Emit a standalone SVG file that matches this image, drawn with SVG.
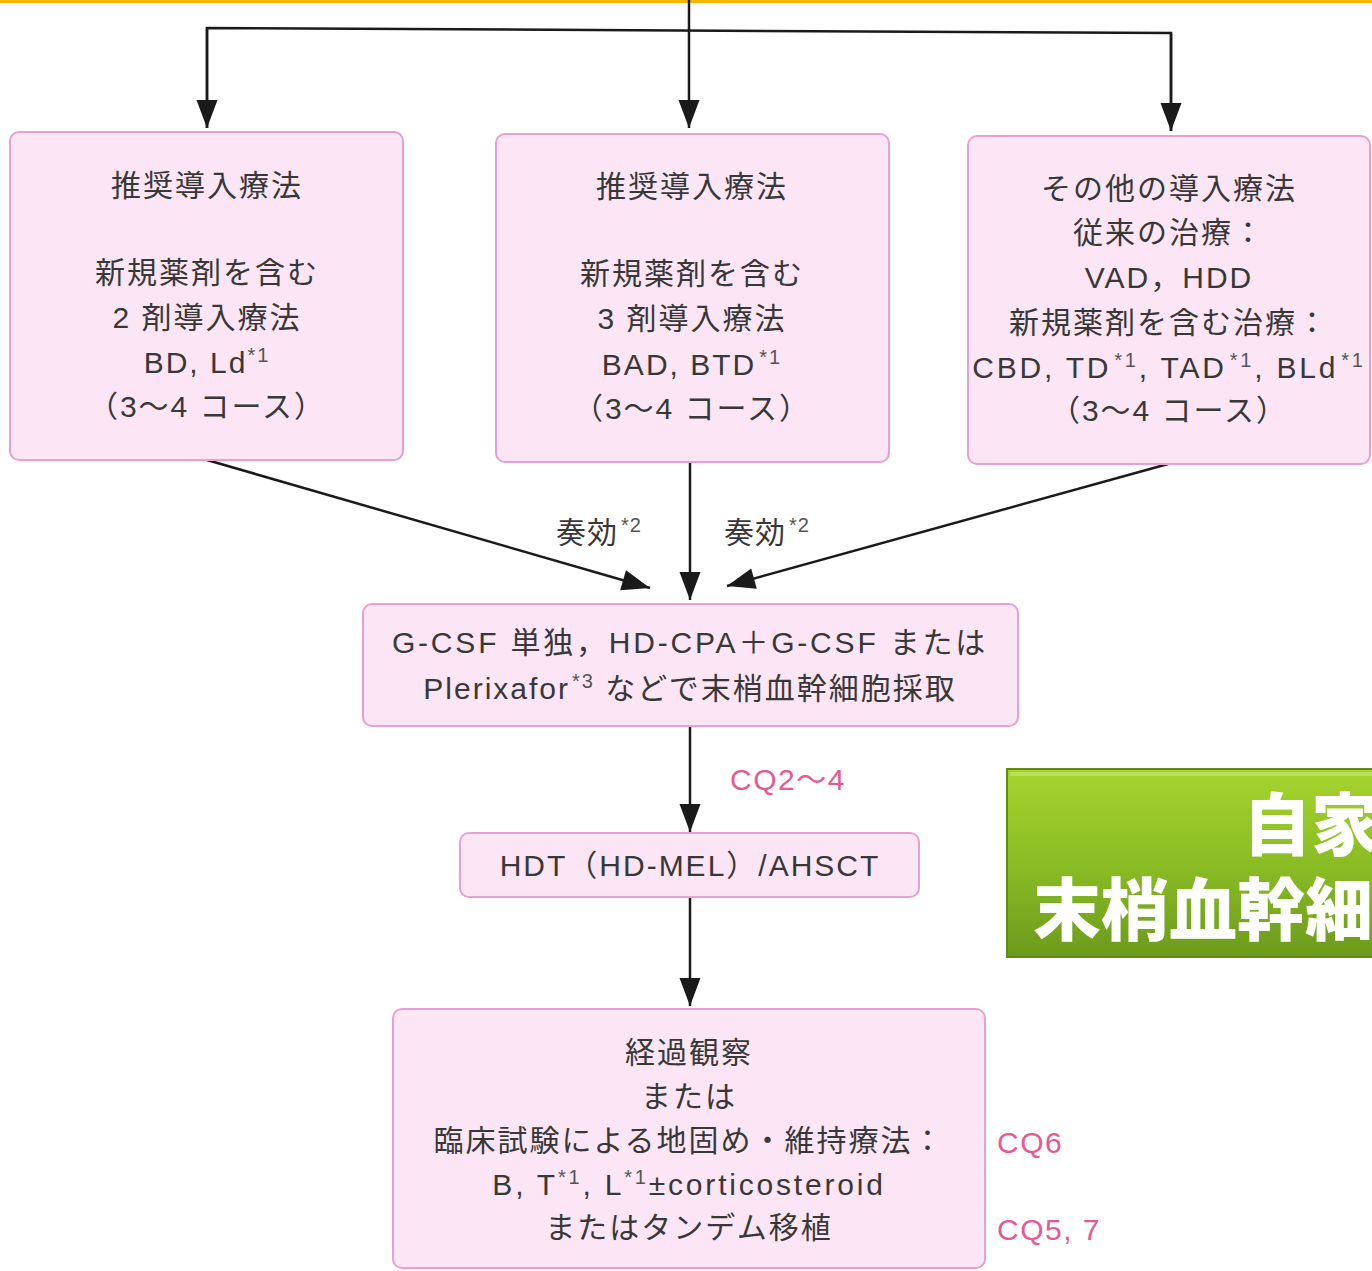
<svg xmlns="http://www.w3.org/2000/svg" width="1372" height="1271" viewBox="0 0 1372 1271">
<style>
.bg{fill:#ffffff}
.box{fill:#fce6f6;stroke:#eaa0cc;stroke-width:2}
.t{font-family:"Liberation Sans","Noto Sans CJK JP",sans-serif;font-size:30px;fill:#383838;text-anchor:middle;letter-spacing:2px}
.w{letter-spacing:2.8px}
.sup{font-size:20px;fill:#555555}
.cq{font-family:"Liberation Sans","Noto Sans CJK JP",sans-serif;font-size:30px;fill:#e65a93;letter-spacing:1.5px}
.lbl{font-family:"Liberation Sans","Noto Sans CJK JP",sans-serif;font-size:30px;fill:#383838;letter-spacing:1px}
.ln{fill:none;stroke:#1a1a1a;stroke-width:2.5}
.g{font-family:"Noto Sans CJK JP",sans-serif;font-weight:900;font-size:68px;fill:#ffffff}
</style>
<defs>
<marker id="ah" viewBox="0 0 10 10" refX="10" refY="5" markerWidth="10" markerHeight="10" markerUnits="userSpaceOnUse" orient="auto" overflow="visible">
<path d="M-18,-5.5 L10,5 L-18,15.5 Z" fill="#1a1a1a"/>
</marker>
<linearGradient id="gg" x1="0" y1="0" x2="0" y2="1">
<stop offset="0" stop-color="#a6d42e"/>
<stop offset="0.5" stop-color="#8abd24"/>
<stop offset="1" stop-color="#6c9a1c"/>
</linearGradient>
</defs>
<rect class="bg" x="0" y="0" width="1372" height="1271"/>
<rect x="0" y="0" width="1372" height="3" fill="#f6b700"/>

<g id="connectors">
<line class="ln" x1="689" y1="0" x2="689" y2="128" marker-end="url(#ah)"/>
<polyline class="ln" points="207,128 207,28 1171,33 1171,131"/>
<line class="ln" x1="207" y1="28" x2="207" y2="128" marker-end="url(#ah)"/>
<line class="ln" x1="1171" y1="33" x2="1171" y2="131" marker-end="url(#ah)"/>
<line class="ln" x1="207" y1="460" x2="650" y2="588" marker-end="url(#ah)"/>
<line class="ln" x1="690" y1="462" x2="690" y2="600" marker-end="url(#ah)"/>
<line class="ln" x1="1168" y1="464" x2="727" y2="586" marker-end="url(#ah)"/>
<line class="ln" x1="690" y1="726" x2="690" y2="832" marker-end="url(#ah)"/>
<line class="ln" x1="690" y1="897" x2="690" y2="1006" marker-end="url(#ah)"/>
<text class="lbl" x="556" y="543">奏効<tspan class="sup" dx="3" dy="-11">*2</tspan></text>
<text class="lbl" x="724" y="543">奏効<tspan class="sup" dx="3" dy="-11">*2</tspan></text>
<text class="cq" x="730" y="790">CQ2〜4</text>
</g>

<g id="induction-2drug">
<rect class="box" x="10" y="132" width="393" height="328" rx="9"/>
<text class="t" x="207" y="196">推奨導入療法</text>
<text class="t" x="207" y="283">新規薬剤を含む</text>
<text class="t" x="207" y="328">2 剤導入療法</text>
<text class="t" x="207" y="373">BD, Ld<tspan class="sup" dy="-11">*1</tspan></text>
<text class="t" x="207" y="417">（3〜4 コース）</text>
</g>

<g id="induction-3drug">
<rect class="box" x="496" y="134" width="393" height="328" rx="9"/>
<text class="t" x="692" y="197">推奨導入療法</text>
<text class="t" x="692" y="284">新規薬剤を含む</text>
<text class="t" x="692" y="329">3 剤導入療法</text>
<text class="t" x="692" y="375">BAD, BTD<tspan class="sup" dx="3" dy="-11">*1</tspan></text>
<text class="t" x="692" y="419">（3〜4 コース）</text>
</g>

<g id="induction-other">
<rect class="box" x="968" y="136" width="402" height="328" rx="9"/>
<text class="t" x="1169" y="199">その他の導入療法</text>
<text class="t" x="1169" y="243">従来の治療：</text>
<text class="t" x="1169" y="288">VAD，HDD</text>
<text class="t" x="1169" y="333">新規薬剤を含む治療：</text>
<text class="t w" x="1169" y="378">CBD, TD<tspan class="sup" dx="3" dy="-11">*1</tspan><tspan dy="11">, TAD</tspan><tspan class="sup" dx="3" dy="-11">*1</tspan><tspan dy="11">, BLd</tspan><tspan class="sup" dx="3" dy="-11">*1</tspan></text>
<text class="t" x="1169" y="421">（3〜4 コース）</text>
</g>

<g id="harvest">
<rect class="box" x="363" y="604" width="655" height="122" rx="9"/>
<text class="t w" x="690" y="653">G-CSF 単独，HD-CPA＋G-CSF または</text>
<text class="t" x="690" y="699">Plerixafor<tspan class="sup" dx="2" dy="-11">*3</tspan><tspan dy="11"> などで末梢血幹細胞採取</tspan></text>
</g>

<g id="hdt">
<rect class="box" x="460" y="833" width="459" height="64" rx="9"/>
<text class="t" x="690" y="876">HDT（HD-MEL）/AHSCT</text>
</g>

<g id="followup">
<rect class="box" x="393" y="1009" width="592" height="259" rx="9"/>
<text class="t" x="689" y="1063">経過観察</text>
<text class="t" x="689" y="1107">または</text>
<text class="t" x="689" y="1151">臨床試験による地固め・維持療法：</text>
<text class="t w" x="689" y="1195">B, T<tspan class="sup" dy="-11">*1</tspan><tspan dy="11">, L</tspan><tspan class="sup" dy="-11">*1</tspan><tspan dy="11">±corticosteroid</tspan></text>
<text class="t" x="689" y="1238">またはタンデム移植</text>
<text class="cq" x="997" y="1153">CQ6</text>
<text class="cq" x="997" y="1240">CQ5, 7</text>
</g>

<g id="title-badge">
<rect x="1007" y="769" width="380" height="188" fill="url(#gg)" stroke="#5f8a18" stroke-width="2"/>
<rect x="1010" y="772" width="376" height="4" fill="#c4e46a" opacity="0.7"/>
<text class="g"><tspan x="1243" y="850">自家</tspan><tspan x="1033" y="935">末梢血幹細</tspan></text>
</g>
</svg>
